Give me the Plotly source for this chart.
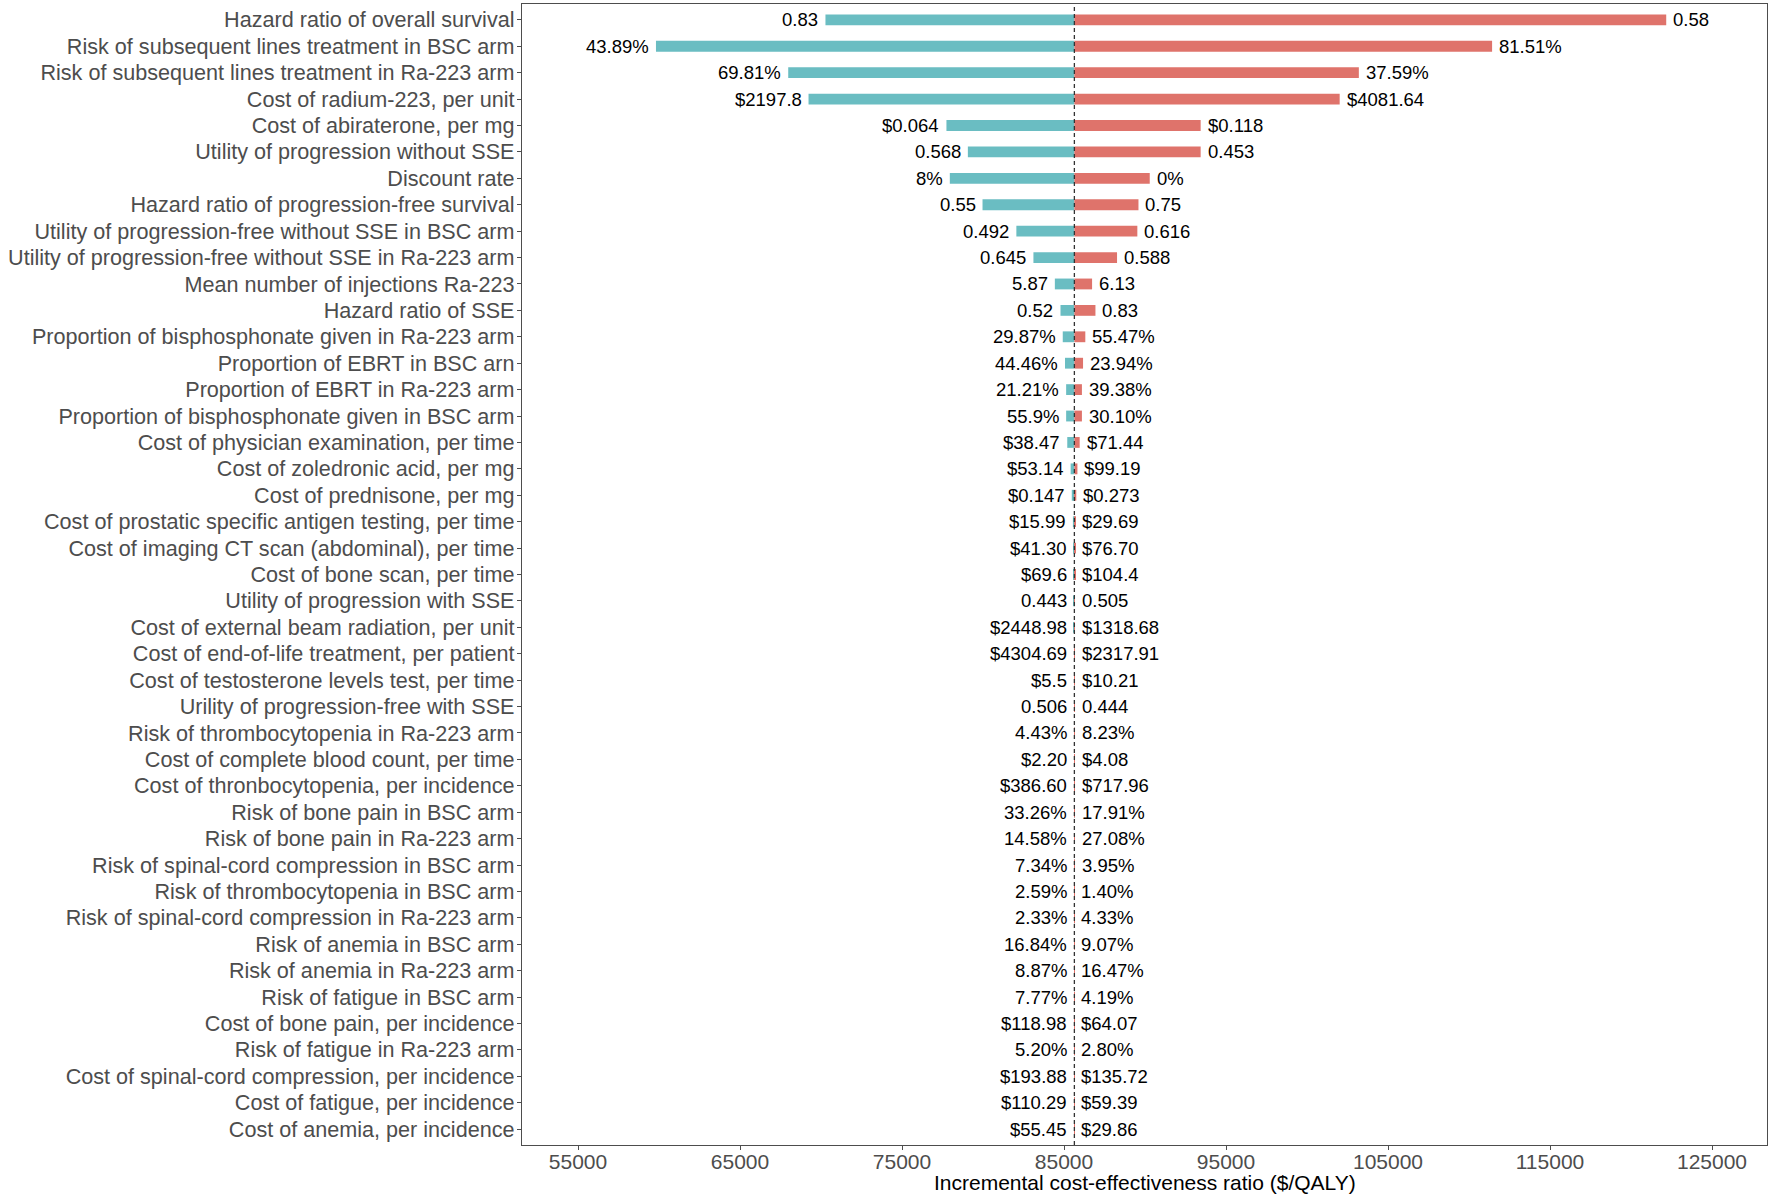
import plotly.graph_objects as go

# ---------------- data ----------------
parameters = [
    "Hazard ratio of overall survival",
    "Risk of subsequent lines treatment in BSC arm",
    "Risk of subsequent lines treatment in Ra-223 arm",
    "Cost of radium-223, per unit",
    "Cost of abiraterone, per mg",
    "Utility of progression without SSE",
    "Discount rate",
    "Hazard ratio of progression-free survival",
    "Utility of progression-free without SSE in BSC arm",
    "Utility of progression-free without SSE in Ra-223 arm",
    "Mean number of injections Ra-223",
    "Hazard ratio of SSE",
    "Proportion of bisphosphonate given in Ra-223 arm",
    "Proportion of EBRT in BSC arn",
    "Proportion of EBRT in Ra-223 arm",
    "Proportion of bisphosphonate given in BSC arm",
    "Cost of physician examination, per time",
    "Cost of zoledronic acid, per mg",
    "Cost of prednisone, per mg",
    "Cost of prostatic specific antigen testing, per time",
    "Cost of imaging CT scan (abdominal), per time",
    "Cost of bone scan, per time",
    "Utility of progression with SSE",
    "Cost of external beam radiation, per unit",
    "Cost of end-of-life treatment, per patient",
    "Cost of testosterone levels test, per time",
    "Urility of progression-free with SSE",
    "Risk of thrombocytopenia in Ra-223 arm",
    "Cost of complete blood count, per time",
    "Cost of thronbocytopenia, per incidence",
    "Risk of bone pain in BSC arm",
    "Risk of bone pain in Ra-223 arm",
    "Risk of spinal-cord compression in BSC arm",
    "Risk of thrombocytopenia in BSC arm",
    "Risk of spinal-cord compression in Ra-223 arm",
    "Risk of anemia in BSC arm",
    "Risk of anemia in Ra-223 arm",
    "Risk of fatigue in BSC arm",
    "Cost of bone pain, per incidence",
    "Risk of fatigue in Ra-223 arm",
    "Cost of spinal-cord compression, per incidence",
    "Cost of fatigue, per incidence",
    "Cost of anemia, per incidence",
]

low_labels = [
    "0.83", "43.89%", "69.81%", "$2197.8", "$0.064", "0.568", "8%", "0.55",
    "0.492", "0.645", "5.87", "0.52", "29.87%", "44.46%", "21.21%", "55.9%",
    "$38.47", "$53.14", "$0.147", "$15.99", "$41.30", "$69.6", "0.443",
    "$2448.98", "$4304.69", "$5.5", "0.506", "4.43%", "$2.20", "$386.60",
    "33.26%", "14.58%", "7.34%", "2.59%", "2.33%", "16.84%", "8.87%", "7.77%",
    "$118.98", "5.20%", "$193.88", "$110.29", "$55.45",
]

high_labels = [
    "0.58", "81.51%", "37.59%", "$4081.64", "$0.118", "0.453", "0%", "0.75",
    "0.616", "0.588", "6.13", "0.83", "55.47%", "23.94%", "39.38%", "30.10%",
    "$71.44", "$99.19", "$0.273", "$29.69", "$76.70", "$104.4", "0.505",
    "$1318.68", "$2317.91", "$10.21", "0.444", "8.23%", "$4.08", "$717.96",
    "17.91%", "27.08%", "3.95%", "1.40%", "4.33%", "9.07%", "16.47%", "4.19%",
    "$64.07", "2.80%", "$135.72", "$59.39", "$29.86",
]

base_icer = 85640

icer_low = [
    70275, 59813, 67977, 69230, 77743, 79065, 77952, 79970, 82059, 83113,
    84435, 84783, 84923, 85062, 85132, 85132, 85201, 85410, 85480, 85549,
    85590, 85600, 85605, 85615, 85618, 85622, 85624, 85626, 85628, 85629,
    85630, 85631, 85632, 85633, 85634, 85634, 85635, 85635, 85636, 85636,
    85637, 85637, 85638,
]

icer_high = [
    122174, 111425, 103200, 102017, 93435, 93435, 90293, 89597, 89527, 88274,
    86733, 86941, 86315, 86176, 86106, 86106, 85967, 85828, 85758, 85688,
    85690, 85680, 85675, 85665, 85662, 85658, 85656, 85654, 85652, 85651,
    85650, 85649, 85648, 85647, 85646, 85646, 85645, 85645, 85644, 85644,
    85643, 85643, 85642,
]

x_ticks = [55000, 65000, 75000, 85000, 95000, 105000, 115000, 125000]
x_title = "Incremental cost-effectiveness ratio ($/QALY)"

# ---------------- figure ----------------
TEAL = "#6abdc2"
RED = "#df736b"
FONT = "Liberation Sans"
GRAY = "#4d4d4d"

fig = go.Figure()

fig.add_trace(go.Bar(
    y=parameters,
    x=[v - base_icer for v in icer_low],
    base=base_icer,
    orientation="h",
    width=0.41,
    marker=dict(color=TEAL, line=dict(width=0)),
    showlegend=False,
    hoverinfo="skip",
))
fig.add_trace(go.Bar(
    y=parameters,
    x=[v - base_icer for v in icer_high],
    base=base_icer,
    orientation="h",
    width=0.41,
    marker=dict(color=RED, line=dict(width=0)),
    showlegend=False,
    hoverinfo="skip",
))

annotations = []
for p, lo, hi, tlo, thi in zip(parameters, icer_low, icer_high, low_labels, high_labels):
    annotations.append(dict(
        x=lo, y=p, xref="x", yref="y", text=tlo, showarrow=False,
        xanchor="right", yanchor="middle", xshift=-5,
        font=dict(family=FONT, size=18.5, color="black"),
    ))
    annotations.append(dict(
        x=hi, y=p, xref="x", yref="y", text=thi, showarrow=False,
        xanchor="left", yanchor="middle", xshift=5,
        font=dict(family=FONT, size=18.5, color="black"),
    ))

annotations.append(dict(
    x=0.5, y=0, xref="paper", yref="paper", text=x_title, showarrow=False,
    xanchor="center", yanchor="middle", yshift=-37,
    font=dict(family=FONT, size=21, color="black"),
))

fig.add_shape(
    type="line", xref="x", yref="paper",
    x0=base_icer, x1=base_icer, y0=0, y1=1,
    line=dict(color="#333333", width=1.3, dash="4px,3px"),
    layer="above",
)

n = len(parameters)
fig.update_layout(
    width=1772,
    height=1197,
    paper_bgcolor="white",
    plot_bgcolor="white",
    barmode="overlay",
    margin=dict(l=522, r=5, t=4, b=52, autoexpand=False),
    font=dict(family=FONT, color=GRAY),
    annotations=annotations,
    xaxis=dict(
        range=[51543, 128395],
        tickvals=x_ticks,
        ticktext=[str(t) for t in x_ticks],
        tickfont=dict(family=FONT, size=21, color=GRAY),
        ticks="outside", ticklen=4, tickcolor=GRAY, tickwidth=1,
        ticklabelstandoff=-6,
        showgrid=False, zeroline=False, automargin=False,
        showline=True, linecolor=GRAY, linewidth=1.3, mirror=True,
    ),
    yaxis=dict(
        type="category",
        categoryorder="array",
        categoryarray=parameters,
        range=[n - 1 + 0.6, -0.6],
        tickfont=dict(family=FONT, size=21.6, color=GRAY),
        ticks="outside", ticklen=4, tickcolor=GRAY, tickwidth=1,
        ticklabelstandoff=-2,
        showgrid=False, zeroline=False, automargin=False,
        showline=True, linecolor=GRAY, linewidth=1.3, mirror=True,
    ),
)

fig.write_html(
    "out.html",
    config={"displayModeBar": False},
    post_script="document.body.style.margin='0px';document.body.style.overflow='hidden';",
)
